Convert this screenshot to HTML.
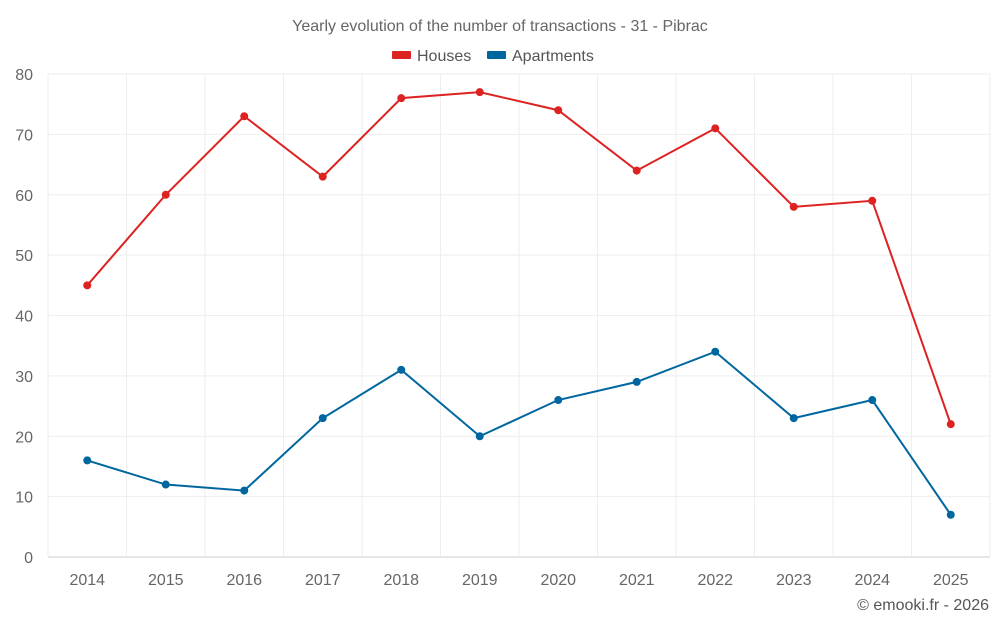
<!DOCTYPE html>
<html><head><meta charset="utf-8"><style>
body{margin:0;background:#fff;}
svg{display:block;font-family:"Liberation Sans",sans-serif;}
</style></head><body>
<svg id="chart" width="1000" height="625">
<text x="500" y="31" text-anchor="middle" font-size="16" fill="#666">Yearly evolution of the number of transactions - 31 - Pibrac</text>
<g>
<g><rect x="392" y="51" width="19" height="8" rx="1" fill="#dd2222"/><text x="417" y="61" font-size="16" fill="#555">Houses</text></g>
<g><rect x="487" y="51" width="19" height="8" rx="1" fill="#0066a0"/><text x="512" y="61" font-size="16" fill="#555">Apartments</text></g>
</g>
<g id="grid"></g><g id="axes"></g><g id="series"></g>
<text x="989" y="610" text-anchor="end" font-size="16" fill="#555">© emooki.fr - 2026</text>
</svg>
<script>
const categories=["2014","2015","2016","2017","2018","2019","2020","2021","2022","2023","2024","2025"];
const houses=[45,60,73,63,76,77,74,64,71,58,59,22];
const apartments=[16,12,11,23,31,20,26,29,34,23,26,7];
const yTicks=[0,10,20,30,40,50,60,70,80];
const NS="http://www.w3.org/2000/svg";
const L=48,R=990,T=74,B=557,yMax=80;
const bw=(R-L)/categories.length;
const x=i=>L+bw*(i+0.5);
const y=v=>B-(v/yMax)*(B-T);
function mk(tag,attrs,parent){const e=document.createElementNS(NS,tag);for(const k in attrs)e.setAttribute(k,attrs[k]);parent.appendChild(e);return e;}
const grid=document.getElementById('grid'),axes=document.getElementById('axes'),ser=document.getElementById('series');
yTicks.forEach(t=>{
 const ln=mk('line',{x1:L,x2:R,y1:y(t),y2:y(t),stroke:t===0?'#ccc':'#eee'},grid);
 
 
 const tx=mk('text',{x:33,y:y(t)+6,'text-anchor':'end','font-size':16,fill:'#666'},axes);
 tx.textContent=t;
 
 
});
for(let i=0;i<=categories.length;i++){
 const ln=mk('line',{x1:L+bw*i,x2:L+bw*i,y1:T,y2:B+(i===0||i===categories.length?0:0),stroke:'#eee'},grid);
 
 
}
categories.forEach((c,i)=>{
 const tx=mk('text',{x:x(i),y:585,'text-anchor':'middle','font-size':16,fill:'#666'},axes);
 tx.textContent=c;
 
 
});
function draw(data,color,name){
 const p=mk('polyline',{points:data.map((v,i)=>x(i)+','+y(v)).join(' '),fill:'none',stroke:color,'stroke-width':2},ser);
 
 
 data.forEach((v,i)=>{
  const c=mk('circle',{cx:x(i),cy:y(v),r:4,fill:color},ser);
  
  
 });
}
draw(houses,'#dd2222','houses');
draw(apartments,'#0066a0','apartments');
</script>
</body></html>
